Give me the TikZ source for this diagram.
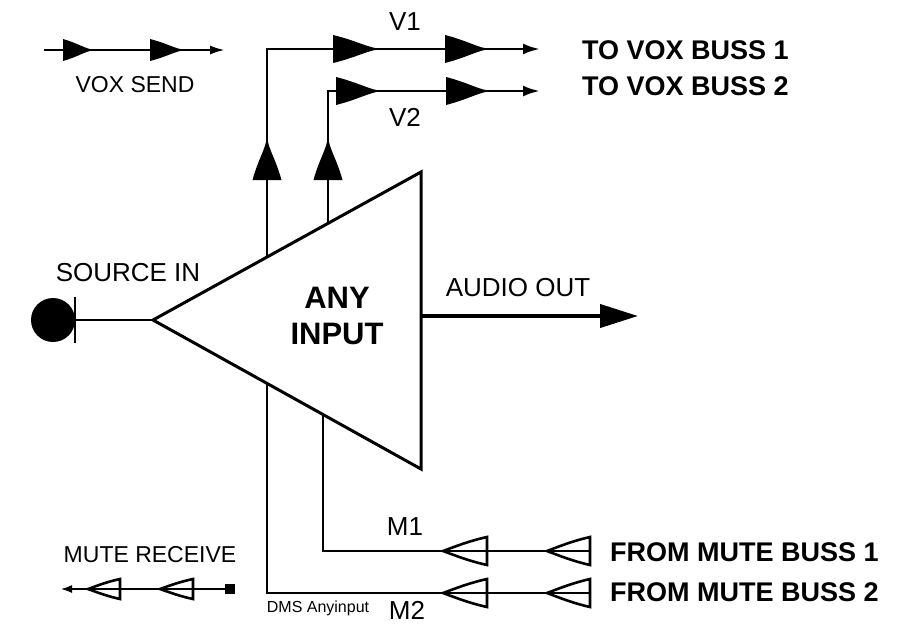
\documentclass[tikz,border=0pt]{standalone}
\usepackage{fontspec}
\setmainfont{Liberation Sans}
\usetikzlibrary{arrows.meta}
\tikzset{
  wire/.style={line width=2.8pt, line join=miter},
  thinwire/.style={line width=2.4pt},
  pics/farrow/.style 2 args={code={
    \fill (0,-#2) .. controls (0.5*#1,-0.58*#2) and (0.72*#1,-0.06*#2) .. (#1,0)
          .. controls (0.72*#1,0.06*#2) and (0.5*#1,0.58*#2) .. (0,#2) -- cycle;}},
  pics/oarrow/.style 2 args={code={
    \draw[line width=2.6pt, line join=miter] (0,-#2) .. controls (0.4*#1,-0.72*#2) and (0.7*#1,-0.35*#2) .. (#1,0)
          .. controls (0.7*#1,0.35*#2) and (0.4*#1,0.72*#2) .. (0,#2) -- cycle;}},
  lbl/.style={font=\fontsize{26}{28}\selectfont, inner sep=0pt},
  slbl/.style={font=\fontsize{23}{25}\selectfont, inner sep=0pt},
  blbl/.style={font=\fontsize{27}{30}\selectfont\bfseries, inner sep=0pt, anchor=west},
}
\begin{document}
\begin{tikzpicture}[x=1pt,y=-1pt]
\useasboundingbox (0,0) rectangle (924,625);
% key points
\coordinate (apex) at (153,320);
\coordinate (ttop) at (421,172);
\coordinate (tbot) at (421,469);
\coordinate (v1c) at (267,49);
\coordinate (v1e) at (540,49);
\coordinate (m2c) at (267,593);
\coordinate (m2e) at (590,593);
\coordinate (v2s) at (328,300);
\coordinate (v2c) at (328,91);
\coordinate (v2e) at (540,91);
\coordinate (m1s) at (323,400);
\coordinate (m1c) at (323,551);
\coordinate (m1e) at (590,551);
\coordinate (aos) at (421,316);
\coordinate (aoe) at (638,316);
\coordinate (src) at (53,320);
\coordinate (srcb) at (75,320);
\coordinate (vss) at (44,50);
\coordinate (vse) at (225,50);
\coordinate (mrs) at (235,589);
\coordinate (mre) at (60,589);

% wires
\draw[wire,-{Latex[length=17pt,width=11pt]}] (m2e) -- (m2c) -- (v1c) -- (v1e);
\draw[wire,-{Latex[length=17pt,width=11pt]}] (v2s) -- (v2c) -- (v2e);
\draw[wire] (m1e) -- (m1c) -- (m1s);
\draw[line width=4pt,-{Triangle[length=38pt,width=23pt]}] (aos) -- (aoe);
\draw[wire] (srcb) -- (apex);
\fill (src) circle (22);
\draw[wire] (75,297) -- (75,343);

% triangle
\filldraw[fill=white, line width=3pt, line join=miter] (apex) -- (ttop) -- (tbot) -- cycle;

% filled arrowheads
\pic at (333,49) {farrow={49}{14}};
\pic at (445,49) {farrow={46}{14}};
\pic at (336,91) {farrow={47}{14}};
\pic at (446,91) {farrow={46}{14}};
\pic[rotate=90] at (267,180) {farrow={44}{14.5}};
\pic[rotate=90] at (328,180) {farrow={44}{14.5}};

% open arrowheads
\pic[rotate=180] at (487,551) {oarrow={44}{14}};
\pic[rotate=180] at (590,551) {oarrow={43}{14}};
\pic[rotate=180] at (487,593) {oarrow={44}{14}};
\pic[rotate=180] at (590,593) {oarrow={43}{14}};

% legend: vox send
\draw[thinwire,-{Latex[length=15pt,width=9pt]}] (vss) -- (vse);
\pic at (63,50) {farrow={32}{11}};
\pic at (150,50) {farrow={36}{11}};
% legend: mute receive
\draw[thinwire,-{Latex[length=12pt,width=8pt]}] (mrs) -- (mre);
\fill (225,584) rectangle (235,594);
\pic[rotate=180] at (120,589) {oarrow={32}{10}};
\pic[rotate=180] at (193,589) {oarrow={33}{10}};

% labels
\node[lbl] (lv1) at (405,22) {V1};
\node[lbl] (lv2) at (405,117) {V2};
\node[lbl] (lm1) at (405,527) {M1};
\node[lbl] (lm2) at (407,610) {M2};
\node[blbl] (tv1) at (582,50) {TO VOX BUSS 1};
\node[blbl] (tv2) at (582,86) {TO VOX BUSS 2};
\node[blbl] (fm1) at (610,552) {FROM MUTE BUSS 1};
\node[blbl] (fm2) at (610,592) {FROM MUTE BUSS 2};
\node[slbl] (lvs) at (135,85) {VOX SEND};
\node[slbl] (lmr) at (150,555) {MUTE RECEIVE};
\node[lbl] (lsi) at (128,273) {SOURCE IN};
\node[lbl] (lao) at (518,288) {AUDIO OUT};
\node[font=\fontsize{31}{34}\selectfont\bfseries, inner sep=0pt, align=center] (ai) at (337,316) {ANY\\[2pt]INPUT};
\node[font=\fontsize{16}{18}\selectfont, inner sep=0pt] (dms) at (318,608) {DMS Anyinput};
\end{tikzpicture}
\end{document}
